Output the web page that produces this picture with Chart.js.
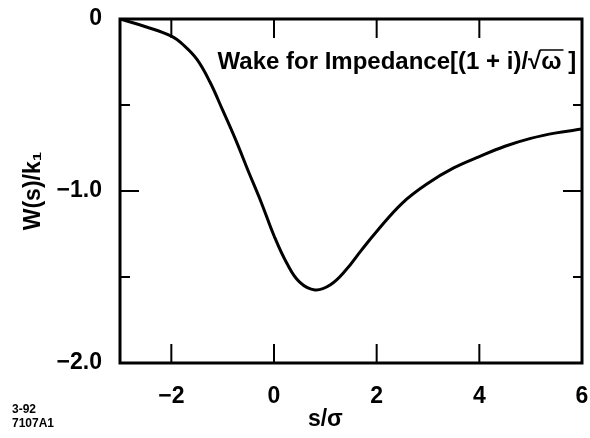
<!DOCTYPE html>
<html>
<head>
<meta charset="utf-8">
<script src="https://cdn.jsdelivr.net/npm/chart.js@4.4.1/dist/chart.umd.min.js"></script>
<style>
  html, body { margin: 0; padding: 0; background: #fff; }
</style>
</head>
<body>
<canvas id="wake-chart" width="590" height="438"></canvas>
<script>
/* ===== WAKE CURVE ===== */

// s/sigma positions and W(s)/k1 values
const sValues = [-3.0, -2.5, -2.0, -1.75, -1.5, -1.25, -1.0, -0.75, -0.5, -0.25, 0.0, 0.25, 0.5, 0.8,
                 1.1, 1.4, 1.7, 2.0, 2.5, 3.0, 3.5, 4.0, 4.5, 5.0, 5.5, 6.0];
const wValues = [0.0, -0.045, -0.10, -0.155, -0.235, -0.365, -0.53, -0.70, -0.885, -1.065, -1.26, -1.42, -1.53, -1.575,
                 -1.545, -1.46, -1.345, -1.235, -1.07, -0.955, -0.866, -0.80, -0.74, -0.694, -0.662, -0.64];

const xTickValues = [-2, 0, 2, 4, 6];
const yTickValues = [-2, -1, 0];
const yTickLabels = ['−2.0', '−1.0', '0'];
const yMinorTicks = [-1.5, -0.5];

const FONT = '"Liberation Sans", Arial, Helvetica, sans-serif';

const framePlugin = {
  id: 'frame',
  afterDatasetsDraw(chart) {
    const { ctx, chartArea: a, scales: { x, y } } = chart;
    ctx.save();
    ctx.strokeStyle = '#000';
    ctx.fillStyle = '#000';

    // box
    ctx.lineWidth = 3;
    ctx.strokeRect(a.left, a.top, a.right - a.left, a.bottom - a.top);

    // inward ticks
    ctx.lineWidth = 2;
    ctx.beginPath();
    xTickValues.forEach(v => {
      const px = x.getPixelForValue(v);
      if (px >= a.right - 2) return;
      ctx.moveTo(px, a.bottom); ctx.lineTo(px, a.bottom - 19);
      ctx.moveTo(px, a.top);    ctx.lineTo(px, a.top + 19);
    });
    yTickValues.forEach(v => {
      const py = y.getPixelForValue(v);
      if (py <= a.top + 2 || py >= a.bottom - 2) return;
      ctx.moveTo(a.left, py);  ctx.lineTo(a.left + 19, py);
      ctx.moveTo(a.right, py); ctx.lineTo(a.right - 19, py);
    });
    yMinorTicks.forEach(v => {
      const py = y.getPixelForValue(v);
      ctx.moveTo(a.left, py);  ctx.lineTo(a.left + 10, py);
      ctx.moveTo(a.right, py); ctx.lineTo(a.right - 9, py);
    });
    ctx.stroke();

    // annotation
    ctx.font = 'bold 24px ' + FONT;
    ctx.textBaseline = 'middle';
    ctx.textAlign = 'left';
    let tx = x.getPixelForValue(-1.1);
    const ty = y.getPixelForValue(-0.25);
    const head = 'Wake for Impedance[(1 + i)/';
    ctx.fillText(head, tx, ty);
    tx += ctx.measureText(head).width;
    ctx.fillText('√', tx, ty);
    tx += ctx.measureText('√').width;
    const omW = ctx.measureText('ω').width;
    ctx.fillText('ω', tx, ty);
    ctx.lineWidth = 1.5;
    ctx.beginPath();
    ctx.moveTo(tx - 1, ty - 12);
    ctx.lineTo(tx + omW + 2, ty - 12);
    ctx.stroke();
    tx += omW;
    ctx.fillText(' ]', tx, ty);

    // x axis title
    ctx.textAlign = 'center';
    ctx.font = 'bold 23px ' + FONT;
    ctx.fillText('s/σ', x.getPixelForValue(1.0), 420);

    // figure id
    ctx.textAlign = 'left';
    ctx.font = 'bold 12px ' + FONT;
    ctx.fillText('3-92', 12, 410);
    ctx.fillText('7107A1', 12, 424);

    ctx.restore();
  }
};

const fmtTick = v => (v < 0 ? '−' + Math.abs(v) : String(v));

new Chart(document.getElementById('wake-chart'), {
  type: 'line',
  data: {
    datasets: [{
      data: sValues.map((s, i) => ({ x: s, y: wValues[i] })),
      borderColor: '#000',
      borderWidth: 3,
      pointRadius: 0,
      fill: false,
      tension: 0.4,
    }],
  },
  options: {
    responsive: false,
    animation: false,
    devicePixelRatio: 1,
    layout: { padding: { left: 0, right: 8, top: 19, bottom: 0 } },
    plugins: {
      legend: { display: false },
      tooltip: { enabled: false },
    },
    scales: {
      x: {
        type: 'linear',
        min: -3,
        max: 6,
        grid: { display: false },
        border: { display: false },
        afterBuildTicks: s => { s.ticks = xTickValues.map(v => ({ value: v })); },
        afterFit: s => { s.height = 75; s.paddingLeft = 0; s.paddingRight = 0; },
        ticks: {
          callback: v => fmtTick(v),
          color: '#000',
          font: { family: FONT, size: 23, weight: 'bold' },
          padding: 12,
          maxRotation: 0,
          autoSkip: false,
        },
      },
      y: {
        type: 'linear',
        min: -2,
        max: 0,
        grid: { display: false },
        border: { display: false },
        afterBuildTicks: s => { s.ticks = yTickValues.map(v => ({ value: v })); },
        afterFit: s => { s.width = 120; s.paddingTop = 0; s.paddingBottom = 0; },
        ticks: {
          callback: v => yTickLabels[yTickValues.indexOf(v)],
          color: '#000',
          font: { family: FONT, size: 23, weight: 'bold' },
          padding: 10,
          autoSkip: false,
        },
        title: {
          display: true,
          text: 'W(s)/k₁',
          color: '#000',
          font: { family: FONT, size: 23, weight: 'bold' },
          padding: { top: 20, bottom: 0 },
        },
      },
    },
  },
  plugins: [framePlugin],
});
</script>
</body>
</html>
